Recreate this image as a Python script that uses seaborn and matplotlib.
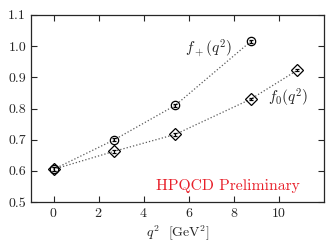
import matplotlib
matplotlib.use("Agg")
import matplotlib.pyplot as plt
import seaborn as sns
import pandas as pd

# q^2 values [GeV^2] and form factor values
q2_plus = [0.0, 2.7, 5.4, 8.75]
f_plus = [0.605, 0.700, 0.810, 1.015]
f_plus_err = [0.006, 0.005, 0.006, 0.004]

q2_zero = [0.0, 2.7, 5.4, 8.75, 10.8]
f_zero = [0.605, 0.663, 0.717, 0.830, 0.922]
f_zero_err = [0.006, 0.005, 0.006, 0.004, 0.003]

sns.set_style("ticks")
plt.rcParams['font.family'] = 'serif'
plt.rcParams['font.serif'] = ['cmr10', 'DejaVu Serif']
plt.rcParams['mathtext.fontset'] = 'cm'
plt.rcParams['axes.formatter.use_mathtext'] = True

fig = plt.figure(figsize=(3.33, 2.48), dpi=100)
ax = fig.add_axes([0.093, 0.185, 0.880, 0.755])

df_plus = pd.DataFrame({"q2": q2_plus, "f": f_plus})
df_zero = pd.DataFrame({"q2": q2_zero, "f": f_zero})

# dotted connecting lines
sns.lineplot(data=df_plus, x="q2", y="f", ax=ax, color="0.35",
             linestyle=":", linewidth=0.9, sort=False)
sns.lineplot(data=df_zero, x="q2", y="f", ax=ax, color="0.35",
             linestyle=":", linewidth=0.9, sort=False)

# markers with error bars
ax.errorbar(q2_plus, f_plus, yerr=f_plus_err, fmt="o", ms=6, mfc="none",
            mec="black", mew=0.9, ecolor="black", elinewidth=0.8, capsize=1.5)
ax.errorbar(q2_zero, f_zero, yerr=f_zero_err, fmt="D", ms=6, mfc="none",
            mec="black", mew=0.9, ecolor="black", elinewidth=0.8, capsize=1.5)

ax.text(7.9, 0.992, r"$f_+(q^2)$", fontsize=11, ha="right", va="center")
ax.text(9.5, 0.835, r"$f_0(q^2)$", fontsize=11, ha="left", va="center")
ax.text(7.72, 0.553, "HPQCD Preliminary", color="#e8202a", fontsize=11.3,
        ha="center", va="center")

ax.set_xlim(-1, 12)
ax.set_ylim(0.5, 1.1)
ax.set_xticks([0, 2, 4, 6, 8, 10])
ax.set_yticks([0.5, 0.6, 0.7, 0.8, 0.9, 1.0, 1.1])
ax.set_yticklabels(["0.5", "0.6", "0.7", "0.8", "0.9", "1.0", "1.1"])
ax.set_xlabel(r"$q^2$  [GeV$^2$]", fontsize=10, labelpad=3)
ax.set_ylabel("")
ax.tick_params(direction="in", top=True, right=True, labelsize=10,
               length=4, width=0.8)
for side in ax.spines.values():
    side.set_linewidth(0.9)

fig.savefig("out.png", dpi=100)
